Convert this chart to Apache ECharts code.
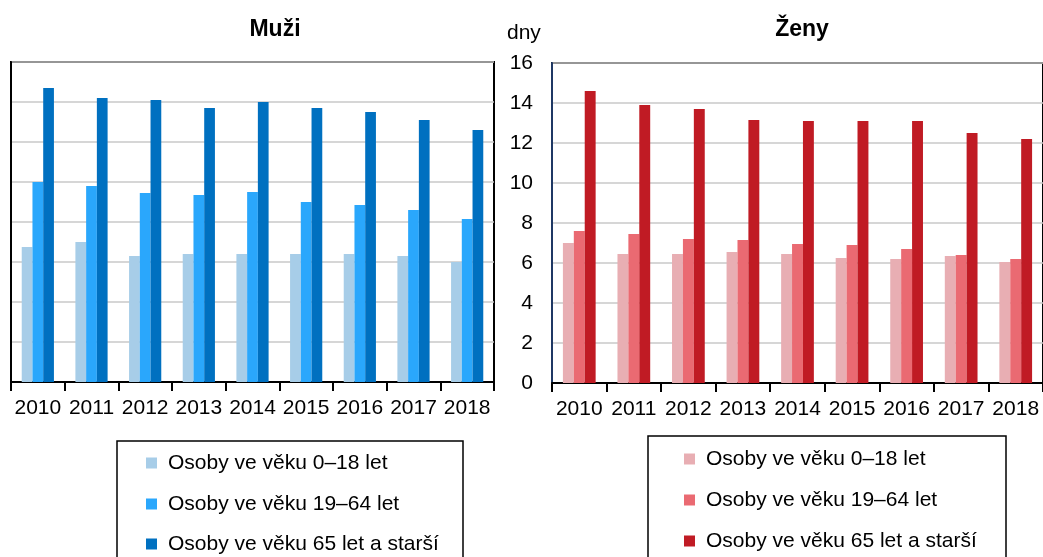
<!DOCTYPE html>
<html>
<head>
<meta charset="utf-8">
<script src="https://cdn.jsdelivr.net/npm/echarts@6/dist/echarts.min.js"></script>
<style>
html,body{margin:0;padding:0;background:#fff;}
#chart{width:1043px;height:557px;}
</style>
</head>
<body>
<div id="chart"></div>
<script>
const years = ['2010','2011','2012','2013','2014','2015','2016','2017','2018'];
const seriesNames = ['Osoby ve věku 0–18 let','Osoby ve věku 19–64 let','Osoby ve věku 65 let a starší'];
const yTicks = [0,2,4,6,8,10,12,14,16];
// Muži
const muzi0_18  = [6.75, 7.0, 6.3, 6.4, 6.4, 6.4, 6.4, 6.3, 6.0];
const muzi19_64 = [10.0, 9.8, 9.45, 9.35, 9.5, 9.0, 8.85, 8.6, 8.15];
const muzi65    = [14.7, 14.2, 14.1, 13.7, 14.0, 13.7, 13.5, 13.1, 12.6];
// Ženy
const zeny0_18  = [7.0, 6.45, 6.45, 6.55, 6.45, 6.25, 6.2, 6.35, 6.05];
const zeny19_64 = [7.6, 7.45, 7.2, 7.15, 6.95, 6.9, 6.7, 6.4, 6.2];
const zeny65    = [14.6, 13.9, 13.7, 13.15, 13.1, 13.1, 13.1, 12.5, 12.2];

const blue = ['#A7CDE8','#2AA7FC','#0070C0'];
const red  = ['#E8AEB3','#EA6A72','#C01B24'];
const FONT = 'Liberation Sans, Arial, sans-serif';
const FS = 21;

const chart = echarts.init(document.getElementById('chart'), null, {renderer:'canvas'});

function bar(name, data, color, idx){
  return {
    type:'bar', name:name, data:data, xAxisIndex:idx, yAxisIndex:idx,
    barGap:'0%', barCategoryGap:'40%',
    itemStyle:{color:color}, emphasis:{disabled:true}, animation:false
  };
}
const rNames = seriesNames.map(n => n + ' ');

function legendItem(name, left, top){
  return {orient:'vertical', left:left, top:top, itemWidth:11, itemHeight:11,
    icon:'rect', selectedMode:false, data:[name], padding:0,
    formatter: n => n.trim(),
    textStyle:{fontSize:FS, color:'#000', fontFamily:FONT, lineHeight:21, padding:[0,0,0,6]}};
}
const leftTops = [452.5, 493.5, 533.5];
const rightTops = [448.5, 489.5, 530.5];

chart.setOption({
  animation:false,
  textStyle:{fontFamily:FONT},
  title:[
    {text:'Muži', left:270, top:13, textAlign:'center',
      textStyle:{fontFamily:FONT, fontSize:23, fontWeight:'bold', color:'#000'}},
    {text:'Ženy', left:797, top:13, textAlign:'center',
      textStyle:{fontFamily:FONT, fontSize:23, fontWeight:'bold', color:'#000'}}
  ],
  graphic:[
    {type:'text', left:507, top:23, style:{text:'dny', font:FS+'px '+FONT, fill:'#000'}},
    {type:'rect', shape:{x:117, y:441, width:346, height:140}, style:{fill:'none', stroke:'#000', lineWidth:1.5}, z:0},
    {type:'rect', shape:{x:648, y:436, width:358, height:140}, style:{fill:'none', stroke:'#000', lineWidth:1.5}, z:0}
  ],
  grid:[
    {left:11, top:62, width:483, height:320, show:true, borderColor:'#000', borderWidth:2, backgroundColor:'transparent'},
    {left:552, top:63, width:493, height:320, show:true, borderColor:'#000', borderWidth:2, backgroundColor:'transparent'}
  ],
  xAxis:[
    {type:'category', gridIndex:0, data:years,
      axisLine:{lineStyle:{color:'#000', width:2}},
      axisTick:{show:true, length:9, lineStyle:{color:'#000', width:2}},
      axisLabel:{fontSize:FS, color:'#000', fontFamily:FONT, margin:16, interval:0}},
    {type:'category', gridIndex:1, data:years,
      axisLine:{lineStyle:{color:'#000', width:2}},
      axisTick:{show:true, length:9, lineStyle:{color:'#000', width:2}},
      axisLabel:{fontSize:FS, color:'#000', fontFamily:FONT, margin:16, interval:0}}
  ],
  yAxis:[
    {type:'value', gridIndex:0, min:yTicks[0], max:yTicks[yTicks.length-1], interval:2,
      axisLine:{show:true, lineStyle:{color:'#000', width:2}},
      axisTick:{show:false}, axisLabel:{show:false},
      splitLine:{show:true, lineStyle:{color:'#C8C8C8', width:1.5}}},
    {type:'value', gridIndex:1, min:yTicks[0], max:yTicks[yTicks.length-1], interval:2,
      axisLine:{show:true, lineStyle:{color:'#1F3864', width:2}},
      axisTick:{show:false},
      axisLabel:{fontSize:FS, color:'#000', fontFamily:FONT, margin:19},
      splitLine:{show:true, lineStyle:{color:'#C8C8C8', width:1.5}}}
  ],
  legend:[
    legendItem(seriesNames[0], 146, leftTops[0]),
    legendItem(seriesNames[1], 146, leftTops[1]),
    legendItem(seriesNames[2], 146, leftTops[2]),
    legendItem(rNames[0], 684, rightTops[0]),
    legendItem(rNames[1], 684, rightTops[1]),
    legendItem(rNames[2], 684, rightTops[2])
  ],
  series:[
    bar(seriesNames[0], muzi0_18, blue[0], 0),
    bar(seriesNames[1], muzi19_64, blue[1], 0),
    bar(seriesNames[2], muzi65, blue[2], 0),
    bar(rNames[0], zeny0_18, red[0], 1),
    bar(rNames[1], zeny19_64, red[1], 1),
    bar(rNames[2], zeny65, red[2], 1)
  ]
});
</script>
</body>
</html>
